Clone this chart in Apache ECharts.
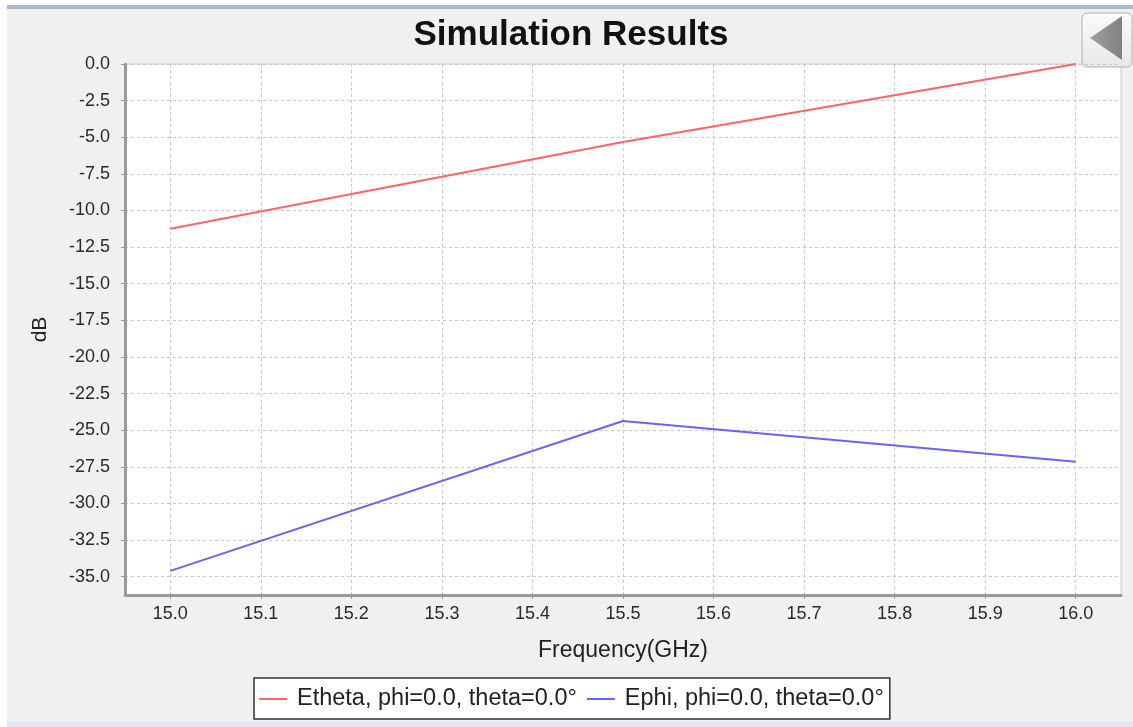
<!DOCTYPE html>
<html>
<head>
<meta charset="utf-8">
<script src="https://cdn.jsdelivr.net/npm/echarts@6/dist/echarts.min.js"></script>
<style>
  html, body { margin: 0; padding: 0; background: #fff; }
  #chart { width: 1133px; height: 727px; }
</style>
</head>
<body>
<div id="chart"></div>
<script>
  // values
  const freqs = [15.0, 15.5, 16.0];
  const ethetaDb = [-11.25, -5.33, 0.0];
  const ephiDb = [-34.6, -24.37, -27.16];
  const freqTicks = [15.0, 15.1, 15.2, 15.3, 15.4, 15.5, 15.6, 15.7, 15.8, 15.9, 16.0];
  const dbTicks = [0, -2.5, -5, -7.5, -10, -12.5, -15, -17.5, -20, -22.5, -25, -27.5, -30, -32.5, -35];
  const seriesNames = ['Etheta, phi=0.0, theta=0.0°', 'Ephi, phi=0.0, theta=0.0°'];

  const font = 'Liberation Sans, Arial, sans-serif';

  let myChart = echarts.init(document.getElementById('chart'));
  let option = {
    animation: false,
    backgroundColor: '#f0f0f0',
    color: ['#ff6464', '#6464ff'],
    title: {
      text: 'Simulation Results',
      left: 566,
      textAlign: 'center',
      top: 13,
      textStyle: { fontFamily: font, fontSize: 35, fontWeight: 'bold', color: '#111' }
    },
    legend: {
      left: 254,
      top: 678,
      padding: [9, 6, 8, 5],
      itemGap: 10,
      itemWidth: 28,
      itemHeight: 2,
      icon: 'rect',
      backgroundColor: '#fff',
      borderColor: '#333',
      borderWidth: 1.5,
      borderRadius: 0,
      textStyle: { fontFamily: font, fontSize: 23.5, color: '#222', padding: [0, 0, 0, 5] },
      data: seriesNames
    },
    grid: {
      left: 125,
      right: 12,
      top: 64,
      bottom: 132,
      show: true,
      backgroundColor: '#fff',
      borderColor: '#cccccc',
      borderWidth: 1
    },
    xAxis: {
      type: 'value',
      min: 14.95,
      max: 16.05,
      name: 'Frequency(GHz)',
      nameLocation: 'middle',
      nameGap: 44,
      nameTextStyle: { fontFamily: font, fontSize: 23, color: '#222' },
      axisLine: { show: true, onZero: false, lineStyle: { color: '#9a9a9a', width: 3 } },
      axisTick: { show: true, length: 4, customValues: freqTicks, lineStyle: { color: '#999' } },
      axisLabel: {
        customValues: freqTicks,
        fontFamily: font, fontSize: 18, color: '#2a2a2a', margin: 10,
        formatter: v => v.toFixed(1)
      },
      splitLine: { show: true, lineStyle: { color: '#c8c8c8', type: [3, 3], width: 1 } }
    },
    yAxis: {
      type: 'value',
      min: -36.25,
      max: 0,
      name: 'dB',
      nameLocation: 'middle',
      nameRotate: 90,
      nameGap: 74,
      nameTextStyle: { fontFamily: font, fontSize: 21, color: '#222' },
      axisLine: { show: true, onZero: false, lineStyle: { color: '#9a9a9a', width: 3 } },
      axisTick: { show: true, length: 4, customValues: dbTicks, lineStyle: { color: '#999' } },
      axisLabel: {
        customValues: dbTicks,
        fontFamily: font, fontSize: 18, color: '#2a2a2a', margin: 15,
        formatter: v => v.toFixed(1)
      },
      splitLine: { show: true, lineStyle: { color: '#c8c8c8', type: [3, 3], width: 1 } }
    },
    series: [
      {
        name: seriesNames[0],
        type: 'line',
        showSymbol: false,
        lineStyle: { width: 2 },
        data: freqs.map((f, i) => [f, ethetaDb[i]])
      },
      {
        name: seriesNames[1],
        type: 'line',
        showSymbol: false,
        lineStyle: { width: 2 },
        data: freqs.map((f, i) => [f, ephiDb[i]])
      }
    ],
    graphic: [
      // window frame bits
      { type: 'rect', shape: { x: 0, y: 0, width: 1133, height: 5 }, style: { fill: '#fff' }, silent: true },
      { type: 'rect', shape: { x: 0, y: 0, width: 7, height: 727 }, style: { fill: '#fff' }, silent: true },
      { type: 'rect', shape: { x: 7, y: 5, width: 1126, height: 4 }, style: { fill: '#a9b8cc' }, silent: true },
      { type: 'rect', shape: { x: 7, y: 722, width: 1126, height: 5 }, style: { fill: '#dfe7f0' }, silent: true },
      // collapse button
      {
        type: 'rect',
        shape: { x: 1082, y: 13, width: 50, height: 54, r: 5 },
        style: {
          fill: new echarts.graphic.LinearGradient(0, 0, 0, 1, [
            { offset: 0, color: '#fafafa' }, { offset: 1, color: '#e8e8e8' }
          ]),
          stroke: '#b0b0b0', lineWidth: 1
        },
        silent: true
      },
      {
        type: 'polygon',
        shape: { points: [[1090, 38], [1122, 16], [1122, 60]] },
        style: {
          fill: new echarts.graphic.LinearGradient(0, 0, 1, 0, [
            { offset: 0, color: '#a0a0a0' }, { offset: 1, color: '#808080' }
          ])
        },
        silent: true
      }
    ]
  };

  myChart.setOption(option);
  window.addEventListener('resize', myChart.resize);
</script>
</body>
</html>
